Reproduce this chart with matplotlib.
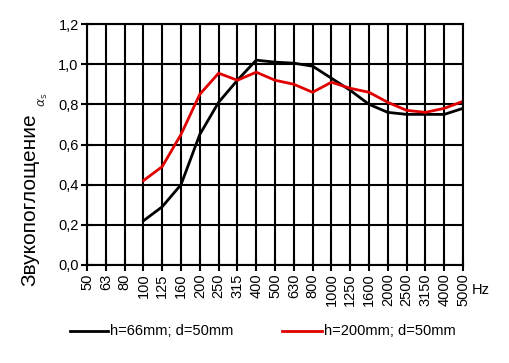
import matplotlib
matplotlib.use("Agg")
import matplotlib.pyplot as plt
from matplotlib.lines import Line2D

plt.rcParams['font.family'] = ['Liberation Sans', 'DejaVu Sans']

freqs = ['50', '63', '80', '100', '125', '160', '200', '250', '315', '400', '500',
         '630', '800', '1000', '1250', '1600', '2000', '2500', '3150', '4000', '5000']
# values start at 100 Hz (index 3)
black_vals = [0.22, 0.29, 0.40, 0.65, 0.81, 0.92, 1.02, 1.01, 1.005, 0.99, 0.93,
              0.87, 0.80, 0.76, 0.75, 0.75, 0.75, 0.78]
red_vals = [0.42, 0.49, 0.65, 0.85, 0.955, 0.92, 0.96, 0.92, 0.90, 0.86, 0.91,
            0.88, 0.86, 0.81, 0.77, 0.76, 0.78, 0.815]
label_black = 'h=66mm; d=50mm'
label_red = 'h=200mm; d=50mm'
yticks = [0.0, 0.2, 0.4, 0.6, 0.8, 1.0, 1.2]

fig = plt.figure(figsize=(5.09, 3.63), dpi=100)
ax = fig.add_axes([87/509, 1-265/363, (463-87)/509, (265-24)/363])

xs = list(range(len(freqs)))
start = freqs.index('100')
ax.plot(xs[start:], black_vals, color='black', lw=2.0, solid_joinstyle='round')
ax.plot(xs[start:], red_vals, color='#e00000', lw=2.0, solid_joinstyle='round')

ax.set_xlim(0, len(freqs) - 1)
ax.set_ylim(0, 1.2)
ax.set_xticks(xs)
ax.set_xticklabels(freqs, rotation=90, fontsize=10.5)
ax.set_yticks(yticks)
ax.set_yticklabels([f'{v:.1f}'.replace('.', ',') for v in yticks], fontsize=10.5)
ax.tick_params(axis='both', direction='inout', length=8, width=1.5, color='black', pad=2)
ax.grid(True, color='black', lw=1.5)
for s in ax.spines.values():
    s.set_linewidth(1.5)
    s.set_color('black')

fig.text(481/509, 1-290/363, 'Hz', fontsize=10.5, ha='center', va='center')

fig.text(30/509, 1-200/363, 'Звукопоглощение', rotation=90, fontsize=15,
         ha='center', va='center')
fig.text(43/509, 1-100/363, r'$\alpha_{\mathrm{s}}$', rotation=90, fontsize=9,
         ha='center', va='center', color='#333333')

# legend
fig.add_artist(Line2D([70/509, 108/509], [1-331/363, 1-331/363], color='black', lw=2))
fig.text(110/509, 1-331/363, label_black, fontsize=10.5, ha='left', va='center')
fig.add_artist(Line2D([282/509, 322/509], [1-331/363, 1-331/363], color='#e00000', lw=2))
fig.text(324/509, 1-331/363, label_red, fontsize=10.5, ha='left', va='center')

fig.savefig('out.png', dpi=100)
